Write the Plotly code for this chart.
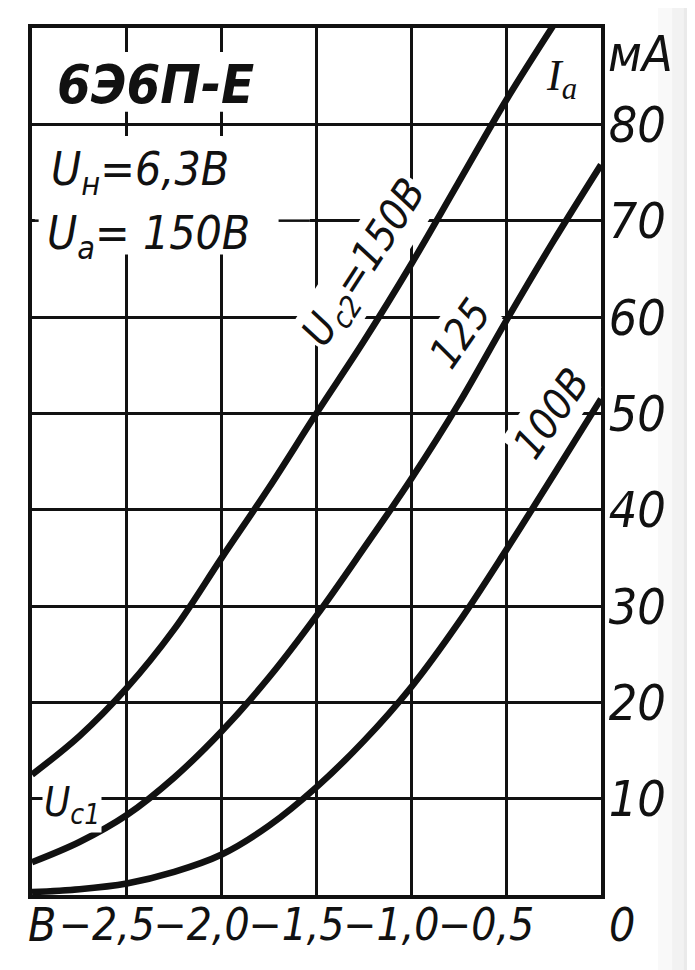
import plotly.graph_objects as go

# ---- data (grid voltage Uc1 [V] vs anode current Ia [mA]) ----
uc1 = [-3.0, -2.75, -2.5, -2.25, -2.0, -1.75, -1.5, -1.25, -1.0, -0.75, -0.5, -0.25, 0.0]
ia_150 = [12.5, 16.5, 21.5, 27.6, 35.0, 42.3, 50.0, 57.5, 65.5, 74.0, 82.5, 90.3, None]
ia_125 = [3.4, 5.5, 8.3, 12.2, 17.0, 22.6, 29.0, 36.0, 43.2, 51.0, 59.6, 67.9, 75.8]
ia_100 = [0.3, 0.6, 1.2, 2.4, 4.2, 7.2, 11.2, 16.0, 21.6, 28.3, 35.8, 43.6, 51.5]

x_ticks = [-2.5, -2.0, -1.5, -1.0, -0.5]
x_ticktext = ["−2,5", "−2,0", "−1,5", "−1,0", "−0,5"]
y_ticks = [10, 20, 30, 40, 50, 60, 70, 80]
y_ticktext = ["10", "20", "30", "40", "50", "60", "70", "80"]

FONT = "Liberation Sans Narrow, DejaVu Sans Condensed, Liberation Sans, Arial, sans-serif"
INK = "#111111"

fig = go.Figure()
for ys in (ia_150, ia_125, ia_100):
    fig.add_trace(go.Scatter(
        x=uc1, y=ys, mode="lines",
        line=dict(color=INK, width=6.5, shape="spline", smoothing=1.0),
        connectgaps=False, hoverinfo="skip", showlegend=False,
    ))

fig.update_layout(
    width=695, height=970,
    margin=dict(l=24, r=102, t=20, b=83, autoexpand=False),
    paper_bgcolor="white", plot_bgcolor="white",
    showlegend=False,
)
fig.update_xaxes(
    range=[-3.0, 0.0], tickvals=x_ticks, ticktext=x_ticktext,
    showgrid=True, gridcolor=INK, gridwidth=2.5,
    showline=True, linecolor=INK, linewidth=3.5, mirror=True,
    ticks="", zeroline=False, tickangle=0, automargin=False,
    tickfont=dict(family=FONT, size=44, color=INK, style="italic"),
    ticklabelshift=-20, ticklabelstandoff=-12,
)
fig.update_yaxes(
    range=[0, 90], tickvals=y_ticks, ticktext=y_ticktext, side="right",
    showgrid=True, gridcolor=INK, gridwidth=2.5,
    showline=True, linecolor=INK, linewidth=3.5, mirror=True,
    ticks="", zeroline=False, automargin=False,
    tickfont=dict(family=FONT, size=50, color=INK, style="italic"),
    ticklabelstandoff=-6,
)

shapes = []
# scanned-paper shading at the right edge
for x0, x1, c in [(1.10, 1.125, "#f9f9f9"), (1.125, 1.145, "#f2f2f2"),
                  (1.145, 1.165, "#eaeaea"), (1.165, 1.30, "#e2e2e2")]:
    shapes.append(dict(type="rect", xref="paper", yref="paper", x0=x0, x1=x1, y0=-0.2, y1=1.1,
                       fillcolor=c, line=dict(width=0), layer="below"))
# blank the grid behind the tube-data box (top-left)
shapes.append(dict(type="rect", xref="x", yref="y", x0=-2.985, x1=-1.535, y0=81.3, y1=87.5,
                   fillcolor="white", line=dict(width=0), layer="between"))
shapes.append(dict(type="rect", xref="x", yref="y", x0=-2.985, x1=-1.535, y0=66.5, y1=78.8,
                   fillcolor="white", line=dict(width=0), layer="between"))
shapes.append(dict(type="line", xref="x", yref="y", x0=-1.70, x1=-1.535, y0=70, y1=70,
                   line=dict(color=INK, width=2.5), layer="between"))
shapes.append(dict(type="line", xref="x", yref="y", x0=-3.0, x1=-2.965, y0=70, y1=70,
                   line=dict(color=INK, width=2.5), layer="between"))
fig.update_layout(shapes=shapes)

ann = []
def A(text, x, y, size, xref="x", yref="y", angle=0, xanchor="center", yanchor="middle",
      bg=None, family=FONT, style="italic", weight="normal", xshift=0, yshift=0):
    d = dict(text=text, x=x, y=y, xref=xref, yref=yref, showarrow=False, textangle=angle,
             xanchor=xanchor, yanchor=yanchor, xshift=xshift, yshift=yshift,
             font=dict(family=family, size=size, color=INK, style=style, weight=weight))
    if bg:
        d.update(bgcolor=bg, borderpad=1)
    ann.append(d)

A("6Э6П-Е", -2.35, 84.1, 54, weight="bold")
A("U<sub>н</sub>=6,3В", -2.91, 75.0, 46, xanchor="left")
A("U<sub>а</sub>= 150В", -2.93, 68.4, 46, xanchor="left")
A("U<sub>c2</sub>=150В", -1.24, 65.6, 42, angle=-57, bg="white")
A("125", -0.744, 58.3, 42, angle=-55, bg="white")
A("100В", -0.264, 50.0, 42, angle=-55, bg="white")
A("U<sub>c1</sub>", -2.79, 9.3, 40, bg="white")
A("I<sub>a</sub>", -0.21, 84.8, 44, family="Liberation Serif, DejaVu Serif, serif")
A("мА", 1.07, 87.3, 50, xref="paper")
A("0", 0.0, 0, 46, yref="paper", xshift=21, yshift=-30)
A("В", 0.018, 0, 46, xref="paper", yref="paper", xshift=0, yshift=-30)
fig.update_layout(annotations=ann)

fig.write_html("out.html")
